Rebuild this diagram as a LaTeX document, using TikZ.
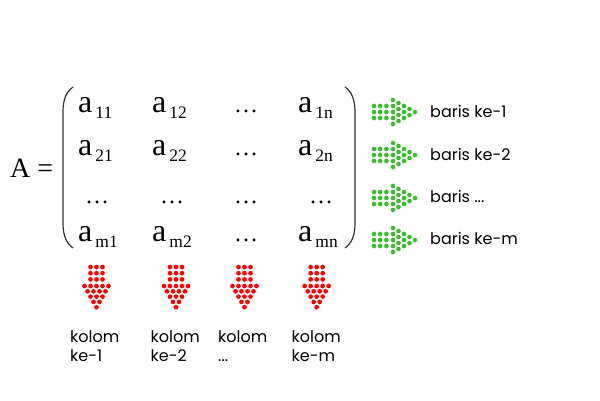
\documentclass[tikz,border=0pt]{standalone}
\usepackage{fontspec}
\setmainfont{Liberation Serif}
\newfontfamily\labelfont{Poppins}
\definecolor{dotgreen}{RGB}{57,190,46}
\definecolor{dotred}{RGB}{255,0,0}
\newcommand\mentry[2]{#1\hspace{3pt}\raisebox{-6pt}{\fontsize{17.5}{17.5}\selectfont #2}}
\newcommand\greenarrow[2]{%
  \foreach \i in {0,1,2}{\foreach \j in {-1,0,1}{\fill[gdot] ({#1+\i*6.2},{#2+\j*6}) circle (2.35pt);}}
  \foreach \k/\m in {0/4,1/3,2/2,3/1,4/0}{\foreach \j in {0,...,\m}{\fill[gdot] ({#1+19+\k*5.5},{#2+(\j-\m/2)*6}) circle (2.35pt);}}}
\newcommand\redarrow[2]{%
  \foreach \i in {0,1,2}{\foreach \j in {-1,0,1}{\fill[rdot] ({#1+\j*6},{#2+\i*6.2}) circle (2.35pt);}}
  \foreach \k/\m in {0/4,1/3,2/2,3/1,4/0}{\foreach \j in {0,...,\m}{\fill[rdot] ({#1+(\j-\m/2)*6},{#2+19+\k*5.3}) circle (2.35pt);}}}
\begin{document}
\begin{tikzpicture}[x=1pt,y=-1pt,
  entry/.style={anchor=base west,inner sep=0pt,font=\fontsize{32}{32}\selectfont},
  dotsentry/.style={anchor=base,inner sep=0pt,font=\fontsize{24}{24}\selectfont},
  lbl/.style={anchor=base west,inner sep=0pt,font=\labelfont\fontsize{16}{19}\selectfont},
  klbl/.style={anchor=north west,inner sep=0pt,align=left,font=\labelfont\fontsize{16}{19}\selectfont},
  gdot/.style={fill=dotgreen},
  rdot/.style={fill=dotred},
  paren/.style={line width=1.2pt,black!80}]
\useasboundingbox (0,0) rectangle (600,400);
% A =
\node[anchor=base west,inner sep=0pt,font=\fontsize{28}{28}\selectfont] (A) at (10,177) {A =};
% parentheses
\coordinate (lpt) at (73,87); \coordinate (lpb) at (73,248);
\coordinate (rpt) at (345,87); \coordinate (rpb) at (345,248);
\draw[paren] (lpt) .. controls (66,92) and (63,100) .. (63,112) -- (63,223) .. controls (63,235) and (66,243) .. (lpb);
\draw[paren] (rpt) .. controls (352,92) and (355,100) .. (355,112) -- (355,223) .. controls (355,235) and (352,243) .. (rpb);
% row 1
\node[entry] (a11) at (78,112) {\mentry{a}{11}};
\node[entry] (a12) at (152,112) {\mentry{a}{12}};
\node[dotsentry] (d13) at (246,112) {…};
\node[entry] (a1n) at (298,112) {\mentry{a}{1n}};
% row 2
\node[entry] (a21) at (78,155) {\mentry{a}{21}};
\node[entry] (a22) at (152,155) {\mentry{a}{22}};
\node[dotsentry] (d23) at (246,155) {…};
\node[entry] (a2n) at (298,155) {\mentry{a}{2n}};
% row 3
\node[dotsentry] (d31) at (97,203) {…};
\node[dotsentry] (d32) at (172,203) {…};
\node[dotsentry] (d33) at (246,203) {…};
\node[dotsentry] (d34) at (321,203) {…};
% row 4
\node[entry] (am1) at (78,241) {\mentry{a}{m1}};
\node[entry] (am2) at (152,241) {\mentry{a}{m2}};
\node[dotsentry] (d43) at (246,241) {…};
\node[entry] (amn) at (298,241) {\mentry{a}{mn}};
% green row arrows
\greenarrow{374}{112}
\greenarrow{374}{155}
\greenarrow{374}{198}
\greenarrow{374}{240}
\node[lbl] (b1) at (430,117) {baris ke-1};
\node[lbl] (b2) at (430,160) {baris ke-2};
\node[lbl] (b3) at (430,202) {baris ...};
\node[lbl] (b4) at (430,244) {baris ke-m};
% red column arrows
\redarrow{96.5}{267}
\redarrow{176}{267}
\redarrow{244.5}{267}
\redarrow{316.7}{267}
\node[klbl] (k1) at (70,330) {kolom\\ke-1};
\node[klbl] (k2) at (150.5,330) {kolom\\ke-2};
\node[klbl] (k3) at (218,330) {kolom\\...};
\node[klbl] (k4) at (291.5,330) {kolom\\ke-m};
\end{tikzpicture}
\end{document}
